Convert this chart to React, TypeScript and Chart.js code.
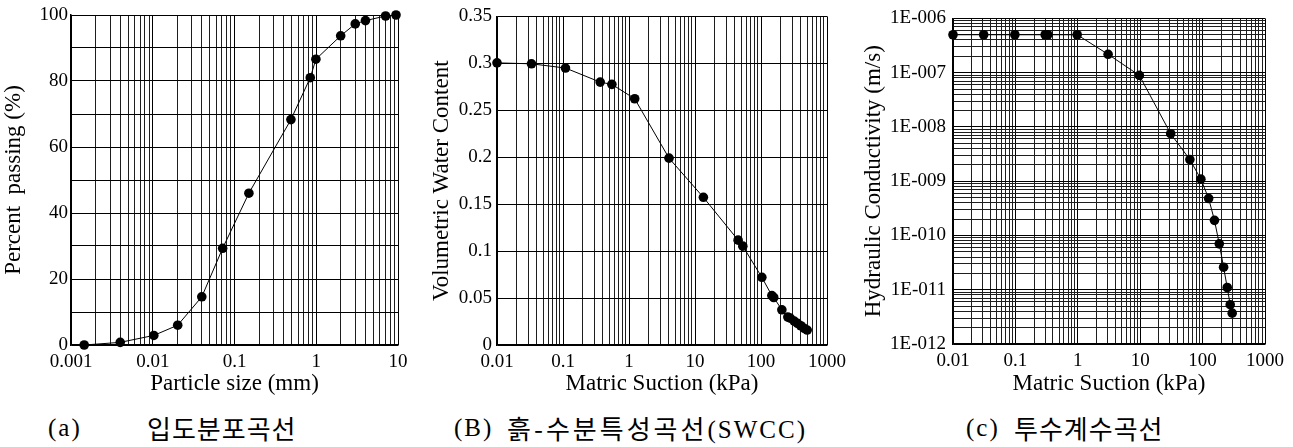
import React, { useEffect, useRef } from "react";
import { Chart, registerables } from "chart.js";

Chart.register(...registerables);

// ---------- Data (a) grain size distribution ----------
const sizeA = [0.00145, 0.004, 0.0103, 0.0202, 0.0398, 0.0716, 0.15, 0.49, 0.845, 0.99, 1.99, 3.0, 4.0, 7.05, 9.45];
const passA = [0, 0.8, 2.9, 6.0, 14.6, 29.3, 46, 68.3, 81.0, 86.6, 93.7, 97.3, 98.3, 99.7, 100];

// ---------- Data (b) SWCC ----------
const suctionB = [0.01, 0.0333, 0.109, 0.366, 0.55, 1.22, 4.04, 13.4, 45, 53, 103, 146, 156, 207, 255, 277, 318, 357, 401, 451, 501];
const thetaB = [0.3005, 0.2995, 0.295, 0.28, 0.2776, 0.2623, 0.199, 0.1573, 0.1117, 0.1053, 0.0721, 0.0527, 0.0506, 0.0375, 0.0297, 0.0286, 0.0255, 0.023, 0.0205, 0.0177, 0.0159];

// ---------- Data (c) hydraulic conductivity ----------
const suctionC = [0.01, 0.031, 0.098, 0.3, 0.33, 0.977, 3.06, 9.7, 30.8, 62.5, 93.8, 125, 155, 185, 217, 248, 277, 298];
const kC = [5e-7, 5e-7, 5e-7, 5e-7, 5e-7, 5e-7, 2.18e-7, 8.9e-8, 7.5e-9, 2.5e-9, 1.09e-9, 4.8e-10, 1.9e-10, 7.0e-11, 2.6e-11, 1.1e-11, 5.3e-12, 3.7e-12];

// ---------- Tick labels ----------
const xTickValsA = [0.001, 0.01, 0.1, 1, 10];
const xTickLabelsA = ["0.001", "0.01", "0.1", "1", "10"];
const yLabelsA = ["0", "", "20", "", "40", "", "60", "", "80", "", "100"];
const xTickValsBC = [0.01, 0.1, 1, 10, 100, 1000];
const xTickLabelsBC = ["0.01", "0.1", "1", "10", "100", "1000"];
const yLabelsB = ["0", "0.05", "0.1", "0.15", "0.2", "0.25", "0.3", "0.35"];
const yTickValsC = [1e-12, 1e-11, 1e-10, 1e-9, 1e-8, 1e-7, 1e-6];
const yTickLabelsC = ["1E-012", "1E-011", "1E-010", "1E-009", "1E-008", "1E-007", "1E-006"];

const SERIF = "'Liberation Serif', 'Times New Roman', serif";
const TICK_SIZE = 19;
const TITLE_SIZE = 23;

function isDecade(v: number) {
  const l = Math.log10(v);
  return Math.abs(l - Math.round(l)) < 1e-9;
}

function logTicks(minExp: number, maxExp: number) {
  const out: { value: number }[] = [];
  for (let e = minExp; e < maxExp; e++) {
    for (let s = 1; s <= 9; s++) out.push({ value: s * Math.pow(10, e) });
  }
  out.push({ value: Math.pow(10, maxExp) });
  return out;
}

function labelFor(vals: number[], labels: string[], v: number) {
  for (let i = 0; i < vals.length; i++) {
    if (Math.abs(Math.log10(v) - Math.log10(vals[i])) < 1e-6) return labels[i];
  }
  return "";
}

type PanelSpec = {
  xs: number[];
  ys: number[];
  xMinExp: number;
  xMaxExp: number;
  xVals: number[];
  xLabels: string[];
  yType: "linear" | "logarithmic";
  yMin: number;
  yMax: number;
  yStep?: number;
  yLabelFn: (v: number, i: number) => string;
  yLogExp?: [number, number];
  xTitle: string;
  yTitle: string;
  yAxisWidth: number;
  xAxisHeight: number;
  padRight: number;
  yTickPad: number;
  yTitlePad: number;
};

function makeConfig(p: PanelSpec): any {
  const gridColor = (ctx: any) => {
    const v = ctx.tick ? ctx.tick.value : 0;
    return isDecade(v) ? "#000" : "#1e1e1e";
  };
  const yScale: any = {
    type: p.yType,
    min: p.yMin,
    max: p.yMax,
    afterFit: (s: any) => {
      s.width = p.yAxisWidth;
    },
    border: { display: true, color: "#000", width: 1.5 },
    grid: {
      drawTicks: false,
      color: p.yType === "logarithmic" ? gridColor : "#000",
      lineWidth: 1,
    },
    ticks: {
      autoSkip: false,
      padding: p.yTickPad,
      color: "#000",
      font: { family: SERIF, size: TICK_SIZE },
      callback: (v: any, i: number) => p.yLabelFn(Number(v), i),
    },
    title: {
      display: true,
      text: p.yTitle,
      color: "#000",
      font: { family: SERIF, size: TITLE_SIZE },
      padding: { top: p.yTitlePad, bottom: 0 },
    },
  };
  if (p.yType === "linear") {
    yScale.ticks.stepSize = p.yStep;
  } else if (p.yLogExp) {
    const [a, b] = p.yLogExp;
    yScale.afterBuildTicks = (s: any) => {
      s.ticks = logTicks(a, b);
    };
  }
  return {
    type: "line",
    data: {
      datasets: [
        {
          data: p.xs.map((x, i) => ({ x, y: p.ys[i] })),
          borderColor: "#000",
          borderWidth: 1,
          backgroundColor: "#000",
          pointRadius: 4.8,
          pointBorderWidth: 0,
          pointBackgroundColor: "#000",
          tension: 0,
          clip: false,
        },
      ],
    },
    options: {
      animation: false,
      responsive: false,
      events: [],
      layout: { padding: { top: 15, right: p.padRight, left: 0, bottom: 0 } },
      plugins: { legend: { display: false }, tooltip: { enabled: false } },
      scales: {
        x: {
          type: "logarithmic",
          min: Math.pow(10, p.xMinExp),
          max: Math.pow(10, p.xMaxExp),
          afterBuildTicks: (s: any) => {
            s.ticks = logTicks(p.xMinExp, p.xMaxExp);
          },
          afterFit: (s: any) => {
            s.height = p.xAxisHeight;
          },
          border: { display: true, color: "#000", width: 1.5 },
          grid: { drawTicks: false, color: gridColor, lineWidth: 1 },
          ticks: {
            autoSkip: false,
            maxRotation: 0,
            padding: 6,
            color: "#000",
            font: { family: SERIF, size: TICK_SIZE },
            callback: (v: any) => labelFor(p.xVals, p.xLabels, Number(v)),
          },
          title: {
            display: true,
            text: p.xTitle,
            color: "#000",
            font: { family: SERIF, size: TITLE_SIZE },
            padding: { top: 0, bottom: 2 },
          },
        },
        y: yScale,
      },
    },
  };
}

function Panel({ spec, left, width, height }: { spec: PanelSpec; left: number; width: number; height: number }) {
  const ref = useRef<HTMLCanvasElement>(null);
  useEffect(() => {
    if (!ref.current) return;
    const chart = new Chart(ref.current, makeConfig(spec));
    return () => chart.destroy();
  }, []);
  return (
    <div style={{ position: "absolute", left, top: 0, width, height }}>
      <canvas ref={ref} width={width} height={height} style={{ width, height, display: "block" }} />
    </div>
  );
}

const specA: PanelSpec = {
  xs: sizeA,
  ys: passA,
  xMinExp: -3,
  xMaxExp: 1,
  xVals: xTickValsA,
  xLabels: xTickLabelsA,
  yType: "linear",
  yMin: 0,
  yMax: 100,
  yStep: 10,
  yLabelFn: (v, i) => yLabelsA[i] ?? "",
  xTitle: "Particle size (mm)",
  yTitle: "Percent  passing (%)",
  yAxisWidth: 71,
  xAxisHeight: 55,
  padRight: 32,
  yTickPad: 3,
  yTitlePad: 0,
};

const specB: PanelSpec = {
  xs: suctionB,
  ys: thetaB,
  xMinExp: -2,
  xMaxExp: 3,
  xVals: xTickValsBC,
  xLabels: xTickLabelsBC,
  yType: "linear",
  yMin: 0,
  yMax: 0.35,
  yStep: 0.05,
  yLabelFn: (v, i) => yLabelsB[i] ?? "",
  xTitle: "Matric Suction (kPa)",
  yTitle: "Volumetric Water Content",
  yAxisWidth: 67,
  xAxisHeight: 55,
  padRight: 33,
  yTickPad: 5,
  yTitlePad: -2,
};

const specC: PanelSpec = {
  xs: suctionC,
  ys: kC,
  xMinExp: -2,
  xMaxExp: 3,
  xVals: xTickValsBC,
  xLabels: xTickLabelsBC,
  yType: "logarithmic",
  yMin: 1e-12,
  yMax: 1e-6,
  yLogExp: [-12, -6],
  yLabelFn: (v) => labelFor(yTickValsC, yTickLabelsC, v),
  xTitle: "Matric Suction (kPa)",
  yTitle: "Hydraulic Conductivity (m/s)",
  yAxisWidth: 93,
  xAxisHeight: 56,
  padRight: 28,
  yTickPad: 7,
  yTitlePad: 0,
};

const capStyle: React.CSSProperties = {
  position: "absolute",
  top: 410,
  fontFamily: "'Liberation Serif', 'Noto Sans CJK KR', serif",
  fontSize: 25,
  letterSpacing: 2,
  lineHeight: "36px",
  color: "#000",
  whiteSpace: "pre",
};
const korStyle: React.CSSProperties = {
  fontFamily: "'Noto Sans CJK KR', sans-serif",
  fontSize: 26,
  letterSpacing: 1,
  fontWeight: 400,
};
const latinTail: React.CSSProperties = {
  fontFamily: "'Liberation Serif', serif",
  fontSize: 25,
  letterSpacing: 2,
  position: "relative",
  top: -1,
};

export default function App() {
  return (
    <div style={{ position: "absolute", left: 0, top: 0, width: 1293, height: 447, background: "#fff", overflow: "hidden" }}>
      <Panel spec={specA} left={0} width={430} height={400} />
      <Panel spec={specB} left={430} width={430} height={400} />
      <Panel spec={specC} left={860} width={433} height={400} />
      <div style={{ ...capStyle, left: 48 }}>(a)</div>
      <div style={{ ...capStyle, left: 147 }}><span style={korStyle}>입도분포곡선</span></div>
      <div style={{ ...capStyle, left: 454 }}>(B)</div>
      <div style={{ ...capStyle, left: 507 }}>
        <span style={{ ...korStyle, letterSpacing: 3 }}>흙-수분특성곡선</span>
        <span style={latinTail}>(SWCC)</span>
      </div>
      <div style={{ ...capStyle, left: 966 }}>(c)</div>
      <div style={{ ...capStyle, left: 1014 }}><span style={korStyle}>투수계수곡선</span></div>
    </div>
  );
}
